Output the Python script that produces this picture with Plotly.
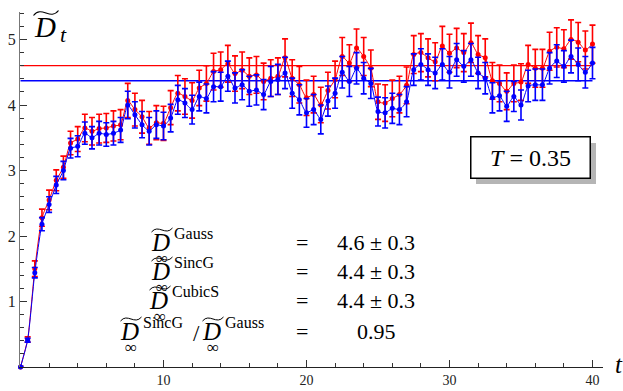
import plotly.graph_objects as go

# ---------------- data ----------------
t = [0.0, 0.5, 1.0, 1.5, 2.0, 2.5, 3.0, 3.5, 4.0, 4.5, 5.0, 5.5, 6.0, 6.5, 7.0, 7.5,
     8.0, 8.5, 9.0, 9.5, 10.0, 10.5, 11.0, 11.5, 12.0, 12.5, 13.0, 13.5, 14.0, 14.5,
     15.0, 15.5, 16.0, 16.5, 17.0, 17.5, 18.0, 18.5, 19.0, 19.5, 20.0, 20.5, 21.0,
     21.5, 22.0, 22.5, 23.0, 23.5, 24.0, 24.5, 25.0, 25.5, 26.0, 26.5, 27.0, 27.5,
     28.0, 28.5, 29.0, 29.5, 30.0, 30.5, 31.0, 31.5, 32.0, 32.5, 33.0, 33.5, 34.0,
     34.5, 35.0, 35.5, 36.0, 36.5, 37.0, 37.5, 38.0, 38.5, 39.0, 39.5, 40.0]

gauss = [0.0, 0.42, 1.50, 2.28, 2.55, 2.85, 3.05, 3.42, 3.48, 3.65, 3.60, 3.64, 3.65,
         3.68, 3.70, 4.07, 3.93, 3.82, 3.65, 3.73, 3.72, 3.96, 4.18, 4.13, 4.07, 4.26,
         4.33, 4.51, 4.54, 4.63, 4.48, 4.53, 4.44, 4.46, 4.36, 4.41, 4.44, 4.72, 4.41,
         4.31, 4.11, 4.16, 4.00, 4.22, 4.39, 4.74, 4.64, 4.87, 4.74, 4.56, 4.05, 4.03,
         4.10, 4.16, 4.30, 4.77, 4.80, 4.72, 4.66, 4.90, 4.79, 4.87, 4.80, 4.95, 4.77,
         4.72, 4.37, 4.33, 4.21, 4.33, 4.35, 4.62, 4.56, 4.56, 4.82, 4.88, 4.86, 5.00,
         4.96, 4.84, 4.93]

gauss_err = [0.01, 0.04, 0.12, 0.13, 0.15, 0.16, 0.17, 0.18, 0.19, 0.21, 0.21, 0.22,
             0.22, 0.23, 0.23, 0.26, 0.25, 0.25, 0.25, 0.26, 0.26, 0.26, 0.27, 0.27,
             0.27, 0.27, 0.27, 0.28, 0.27, 0.28, 0.27, 0.28, 0.28, 0.28, 0.28, 0.28,
             0.28, 0.29, 0.28, 0.28, 0.27, 0.28, 0.27, 0.28, 0.28, 0.29, 0.28, 0.29,
             0.29, 0.28, 0.27, 0.28, 0.28, 0.28, 0.28, 0.29, 0.29, 0.29, 0.29, 0.30,
             0.29, 0.30, 0.29, 0.30, 0.29, 0.29, 0.28, 0.28, 0.28, 0.28, 0.28, 0.29,
             0.29, 0.29, 0.29, 0.30, 0.29, 0.30, 0.30, 0.29, 0.29]

sincg = [0.0, 0.41, 1.44, 2.18, 2.48, 2.78, 3.00, 3.34, 3.37, 3.57, 3.50, 3.57, 3.55,
         3.57, 3.62, 4.00, 3.85, 3.70, 3.60, 3.70, 3.68, 3.80, 4.08, 4.03, 3.93, 4.13,
         4.10, 4.28, 4.28, 4.44, 4.26, 4.31, 4.21, 4.23, 4.16, 4.36, 4.39, 4.49, 4.18,
         4.08, 3.88, 3.93, 3.78, 4.06, 4.18, 4.50, 4.36, 4.56, 4.41, 4.33, 3.90, 3.88,
         3.95, 3.93, 4.05, 4.54, 4.62, 4.54, 4.49, 4.62, 4.50, 4.69, 4.59, 4.69, 4.49,
         4.41, 4.11, 4.14, 3.98, 4.13, 4.00, 4.29, 4.31, 4.31, 4.56, 4.67, 4.59, 4.74,
         4.62, 4.50, 4.64]

sincg_err = [0.01, 0.03, 0.08, 0.10, 0.12, 0.13, 0.14, 0.15, 0.16, 0.17, 0.17, 0.18,
             0.18, 0.18, 0.19, 0.21, 0.20, 0.20, 0.21, 0.21, 0.21, 0.21, 0.22, 0.22,
             0.22, 0.22, 0.22, 0.23, 0.22, 0.23, 0.23, 0.23, 0.23, 0.23, 0.23, 0.23,
             0.23, 0.24, 0.23, 0.23, 0.22, 0.23, 0.22, 0.23, 0.23, 0.24, 0.23, 0.24,
             0.24, 0.23, 0.22, 0.23, 0.23, 0.23, 0.23, 0.24, 0.24, 0.24, 0.24, 0.24,
             0.24, 0.25, 0.24, 0.25, 0.24, 0.24, 0.23, 0.23, 0.23, 0.23, 0.23, 0.24,
             0.24, 0.24, 0.24, 0.25, 0.24, 0.25, 0.25, 0.24, 0.24]

D_inf_gauss = 4.60
D_inf_sincg = 4.37

x_tick_vals = [10, 20, 30, 40]
y_tick_vals = [1, 2, 3, 4, 5]

rows = [("Gauss", "=", "4.6 ± 0.3"),
        ("SincG", "=", "4.4 ± 0.3"),
        ("CubicS", "=", "4.4 ± 0.3")]
ratio_text = ("SincG", "Gauss", "=", "0.95")
T_label = "<i>T</i> = 0.35"

# ---------------- layout helpers ----------------
W, H = 623, 391
ML, MR, MT, MB = 20, 20, 12, 24
PW = W - ML - MR
PH = H - MT - MB
SERIF = "'Liberation Serif', 'Times New Roman', Times, 'DejaVu Serif', serif"


def px(x):
    return (x - ML) / PW


def py(y):
    return (H - MB - y) / PH


annotations = []
shapes = []


def txt(text, x, y, size, xanchor="center", yanchor="middle", color="black"):
    annotations.append(dict(text=text, xref="paper", yref="paper", x=px(x), y=py(y),
                            xanchor=xanchor, yanchor=yanchor, showarrow=False,
                            font=dict(family=SERIF, size=size, color=color)))


def tilde(cx, cy, w, h, lw=1.0):
    x0, x1 = cx - w / 2, cx + w / 2
    p = "M {},{} C {},{} {},{} {},{}".format(
        px(x0), py(cy + h / 2),
        px(cx - w / 6), py(cy - h * 1.6),
        px(cx + w / 6), py(cy + h * 1.6),
        px(x1), py(cy - h / 2))
    shapes.append(dict(type="path", xref="paper", yref="paper", path=p,
                       line=dict(color="black", width=lw)))


def Dsym(cx, cy, size=25, tw=21):
    txt("<i>D</i>", cx, cy, size)
    tilde(cx + 2, cy - 12, tw, 4)


# ---------------- figure ----------------
fig = go.Figure()

fig.add_trace(go.Scatter(x=[t[0], t[-1]], y=[D_inf_gauss, D_inf_gauss], mode="lines",
                         line=dict(color="red", width=1.3), hoverinfo="skip"))
fig.add_trace(go.Scatter(x=[t[0], t[-1]], y=[D_inf_sincg, D_inf_sincg], mode="lines",
                         line=dict(color="blue", width=1.3), hoverinfo="skip"))

fig.add_trace(go.Scatter(
    x=t, y=gauss, mode="lines+markers", cliponaxis=False,
    line=dict(color="red", width=1, shape="spline", smoothing=0.5),
    marker=dict(size=5, color="red"),
    error_y=dict(type="data", array=gauss_err, color="red", thickness=1.6, width=3)))

fig.add_trace(go.Scatter(
    x=t, y=sincg, mode="lines+markers", cliponaxis=False,
    line=dict(color="blue", width=1, shape="spline", smoothing=0.5),
    marker=dict(size=5, color="blue"),
    error_y=dict(type="data", array=sincg_err, color="blue", thickness=1.6, width=3)))

# axis labels
txt("<i>D</i>", 45, 27, 29)
tilde(46, 13, 25, 5, 1.2)
txt("<i>t</i>", 63, 34, 22)
txt("<i>t</i>", 619, 364, 25)

# formula block
row_y = [242, 271, 300]
for (name, eq, val), yr in zip(rows, row_y):
    dx = 160 if name != "CubicS" else 158
    Dsym(dx, yr)
    txt(name, dx + 12, yr - 9, 16, xanchor="left")
    txt("∞", dx + 2, yr + 16, 17)
    txt(eq, 302, yr, 22)
    txt(val, 376, yr, 22)

yr = 331
n1, n2, eq, val = ratio_text
Dsym(129, yr)
txt(n1, 141, yr - 9, 16, xanchor="left")
txt("∞", 131, yr + 16, 17)
txt("/", 196, yr + 2, 23)
Dsym(211, yr)
txt(n2, 223, yr - 9, 16, xanchor="left")
txt("∞", 213, yr + 16, 17)
txt(eq, 302, yr, 22)
txt(val, 376, yr, 22)

# T box: drop shadow (shape) + framed label
shapes.append(dict(type="rect", xref="paper", yref="paper", layer="above",
                   x0=px(476), x1=px(596), y0=py(184), y1=py(143),
                   fillcolor="rgba(90,90,90,0.45)", line=dict(width=0)))
annotations.append(dict(text=T_label, xref="paper", yref="paper", x=px(530), y=py(157),
                        xanchor="center", yanchor="middle", showarrow=False,
                        font=dict(family=SERIF, size=24, color="black"),
                        width=114, height=36, borderpad=2, bgcolor="white",
                        bordercolor="black", borderwidth=1.5))

axis_common = dict(showgrid=False, zeroline=False, showline=True, ticks="inside",
                   tickcolor="#333", tickwidth=1, automargin=False,
                   tickfont=dict(family=SERIF, size=14, color="#222"))

fig.update_layout(
    width=W, height=H, margin=dict(l=ML, r=MR, t=MT, b=MB, autoexpand=False),
    paper_bgcolor="white", plot_bgcolor="white", showlegend=False,
    xaxis=dict(range=[-0.035, 40.735], tickmode="array", tickvals=x_tick_vals,
               ticklen=7, linecolor="#222", linewidth=1,
               minor=dict(tickmode="linear", tick0=0, dtick=2, ticks="inside",
                          ticklen=4, tickcolor="#333"),
               **axis_common),
    yaxis=dict(range=[0, 5.42], tickmode="array", tickvals=y_tick_vals,
               ticklen=7, linecolor="#777", linewidth=1,
               minor=dict(tickmode="linear", tick0=0, dtick=0.2, ticks="inside",
                          ticklen=4, tickcolor="#333"),
               **axis_common),
    annotations=annotations, shapes=shapes,
)
fig.update_yaxes(tickfont=dict(size=16))

fig.write_html("out.html", config={"displayModeBar": False},
               post_script="document.body.style.margin='0';document.body.style.overflow='hidden';")
